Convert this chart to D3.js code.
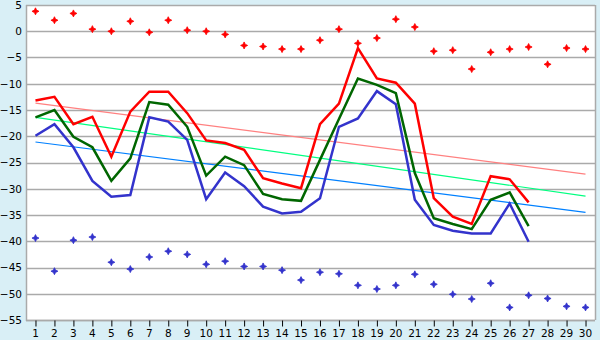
<!DOCTYPE html>
<html><head><meta charset="utf-8">
<script src="https://cdn.jsdelivr.net/npm/d3@7"></script>
<style>html,body{margin:0;padding:0;background:#d9eff6;}svg{display:block;}</style>
</head><body>
<svg id="c" width="600" height="340"></svg>
<script>
const categories = d3.range(1, 31).map(String);
const yTicks = [5, 0, -5, -10, -15, -20, -25, -30, -35, -40, -45, -50, -55];

const redLine = [-13.2, -12.5, -17.7, -16.3, -23.9, -15.3, -11.5, -11.5, -15.6, -20.8, -21.3, -22.6, -28.0, -29.0, -29.9, -17.7, -13.8, -3.2, -9.0, -9.8, -13.8, -31.8, -35.3, -36.7, -27.6, -28.2, -32.6];
const greenLine = [-16.4, -15.0, -20.1, -22.1, -28.5, -24.2, -13.5, -14.0, -18.2, -27.5, -23.9, -25.5, -31.0, -32.0, -32.3, -24.5, -16.7, -9.0, -10.2, -11.8, -27.0, -35.6, -36.7, -37.7, -32.1, -30.7, -37.1];
const blueLine = [-19.9, -17.7, -22.1, -28.5, -31.5, -31.2, -16.4, -17.2, -20.7, -32.0, -26.9, -29.5, -33.4, -34.7, -34.4, -31.8, -18.2, -16.6, -11.4, -13.9, -32.1, -36.9, -38.0, -38.5, -38.5, -32.8, -40.1];

const redPoints = [3.8, 2.1, 3.4, 0.4, 0.0, 1.9, -0.2, 2.1, 0.2, 0.0, -0.6, -2.7, -2.9, -3.4, -3.4, -1.7, 0.4, -2.3, -1.3, 2.3, 0.8, -3.8, -3.6, -7.2, -4.0, -3.4, -3.0, -6.3, -3.2, -3.4];
const bluePoints = [-39.4, -45.7, -39.8, -39.2, -44.0, -45.3, -43.0, -41.9, -42.5, -44.4, -43.8, -44.8, -44.8, -45.5, -47.4, -45.9, -46.2, -48.4, -49.1, -48.4, -46.3, -48.2, -50.1, -51.0, -48.0, -52.6, -50.3, -50.9, -52.4, -52.6];

const trendCats = ["1", "30"];
const trendRed = [-13.7, -27.2];
const trendGreen = [-16.4, -31.4];
const trendBlue = [-21.1, -34.5];

const svg = d3.select("#c");
const L = 26, R = 595, T = 5, B = 320;
const x = d3.scaleBand().domain(categories).range([L, R]);
const y = d3.scaleLinear().domain([-55, 5]).range([B, T]);
const cx = c => x(c) + x.bandwidth() / 2;
const snap = v => Math.round(v) + 0.5;
const FONT = "DejaVu Sans, Verdana, sans-serif";

svg.append("rect").attr("x", L).attr("y", T).attr("width", R - L).attr("height", B - T).attr("fill", "#fff");

// gridlines
svg.append("g").selectAll("line").data(yTicks).join("line")
  .attr("x1", L).attr("x2", R)
  .attr("y1", d => snap(y(d))).attr("y2", d => snap(y(d)))
  .attr("stroke", "#aaaaaa").attr("stroke-width", 1.5);

// border
svg.append("line").attr("x1", snap(R)).attr("x2", snap(R)).attr("y1", T).attr("y2", B).attr("stroke", "#aaaaaa").attr("stroke-width", 1.5);
svg.append("line").attr("x1", snap(L)).attr("x2", snap(L)).attr("y1", T).attr("y2", B + 1).attr("stroke", "#aaaaaa").attr("stroke-width", 1.5);

// y labels
svg.append("g").selectAll("text").data(yTicks).join("text")
  .attr("x", 22).attr("y", d => y(d)).attr("dy", "0.36em")
  .attr("text-anchor", "end")
  .attr("font-family", FONT).attr("font-size", 10.5)
  .attr("fill", "#000")
  .text(d => d < 0 ? "\u2212" + Math.abs(d) : String(d));

// x axis
const xAxis = d3.axisBottom(x).tickSize(6).tickPadding(3);
const gx = svg.append("g").attr("transform", `translate(0,${snap(B)})`).call(xAxis);
gx.select(".domain").attr("stroke", "#aaaaaa").attr("stroke-width", 1.5).attr("d", `M${L},0H${R}`);
gx.selectAll(".tick line").attr("stroke", "#000").attr("transform", "translate(0.5,0)");
gx.selectAll(".tick text").attr("font-family", FONT).attr("font-size", 10.5).attr("fill", "#000");

// trend lines
const tline = d3.line().x(d => cx(d[0])).y(d => y(d[1]));
[[trendRed, "#ff8080"], [trendGreen, "#00ff80"], [trendBlue, "#0080ff"]].forEach(([vals, col]) => {
  svg.append("path").attr("d", tline(trendCats.map((c, i) => [c, vals[i]])))
    .attr("fill", "none").attr("stroke", col).attr("stroke-width", 1.2);
});

// main lines
const mline = d3.line().x((d, i) => cx(categories[i])).y(d => y(d));
[[blueLine, "#3333cc"], [greenLine, "#006600"], [redLine, "#ff0000"]].forEach(([vals, col]) => {
  svg.append("path").attr("d", mline(vals))
    .attr("fill", "none").attr("stroke", col).attr("stroke-width", 2.5).attr("stroke-linejoin", "miter");
});

// markers
const star = "M0,-3.5L1,-1.5L1.5,-1L3.5,0L1.5,1L1,1.5L0,3.5L-1,1.5L-1.5,1L-3.5,0L-1.5,-1L-1,-1.5Z";
[[redPoints, "#ff0000"], [bluePoints, "#3333cc"]].forEach(([vals, col]) => {
  svg.append("g").selectAll("path").data(vals).join("path")
    .attr("d", star)
    .attr("transform", (d, i) => `translate(${cx(categories[i])},${y(d)})`)
    .attr("fill", col).attr("stroke", col).attr("stroke-width", 0.8);
});
</script>
</body></html>
